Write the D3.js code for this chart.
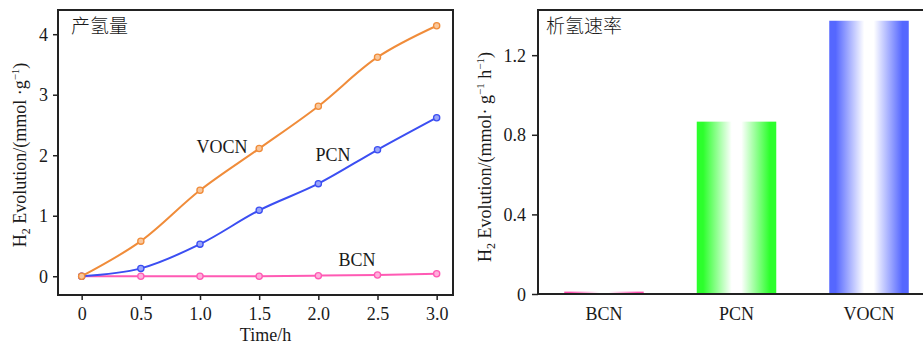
<!DOCTYPE html>
<html>
<head>
<meta charset="utf-8">
<script src="https://cdn.jsdelivr.net/npm/d3@7"></script>
<style>
  html, body { margin: 0; padding: 0; background: #fff; }
  svg { display: block; }
  text { font-family: "Liberation Serif", "DejaVu Serif", serif; fill: #1a1a1a; }
  .cjk { font-family: "Noto Sans CJK SC", sans-serif; font-weight: 300; }
</style>
</head>
<body>
<svg id="chart" width="923" height="345"></svg>
<script>
// Left panel: cumulative H2 vs time
const times = [0, 0.5, 1.0, 1.5, 2.0, 2.5, 3.0];
const vocnAmount = [0, 0.58, 1.42, 2.11, 2.81, 3.62, 4.14];
const pcnAmount = [0, 0.13, 0.53, 1.09, 1.53, 2.09, 2.62];
const bcnAmount = [0, 0, 0, 0, 0.01, 0.02, 0.04];
const timeTicks = [0, 0.5, 1.0, 1.5, 2.0, 2.5, 3.0];
const timeTickLabels = ['0', '0.5', '1.0', '1.5', '2.0', '2.5', '3.0'];
const amountTicks = [0, 1, 2, 3, 4];

// Right panel: rate per sample
const samples = ['BCN', 'PCN', 'VOCN'];
const rates = [0.012, 0.866, 1.373];
const rateTicks = [0, 0.4, 0.8, 1.2];
const rateTickLabels = ['0', '0.4', '0.8', '1.2'];

const svg = d3.select('#chart');

/* ---------- left panel ---------- */
const L = { left: 58, right: 453, top: 10, bottom: 295 };
const x1 = d3.scaleLinear().domain([-0.2, 3.138]).range([L.left, L.right]);
const y1 = d3.scaleLinear().domain([-0.31, 4.4]).range([L.bottom, L.top]);

const left = svg.append('g');

const series = [
  { name: 'VOCN', values: vocnAmount, color: '#f08c3a', fill: '#f9c79b', lx: 222, ly: 153 },
  { name: 'PCN', values: pcnAmount, color: '#3b4ef2', fill: '#9aa5f8', lx: 333, ly: 161 },
  { name: 'BCN', values: bcnAmount, color: '#ff5ab4', fill: '#ffb0dc', lx: 357, ly: 266 }
];

const line = d3.line()
  .x((d, i) => x1(times[i]))
  .y((d) => y1(d))
  .curve(d3.curveCatmullRom.alpha(0.5));

// draw BCN first so others sit on top
series.slice().reverse().forEach((s) => {
  left.append('path')
    .attr('d', line(s.values))
    .attr('fill', 'none')
    .attr('stroke', s.color)
    .attr('stroke-width', 2);
  left.selectAll(null)
    .data(s.values)
    .enter()
    .append('circle')
    .attr('cx', (d, i) => x1(times[i]))
    .attr('cy', (d) => y1(d))
    .attr('r', 3.1)
    .attr('fill', s.fill)
    .attr('stroke', s.color)
    .attr('stroke-width', 1.3);
});

series.forEach((s) => {
  left.append('text')
    .attr('x', s.lx)
    .attr('y', s.ly)
    .attr('text-anchor', 'middle')
    .attr('font-size', 18)
    .text(s.name);
});

// axes
const xAxis1 = d3.axisBottom(x1)
  .tickValues(timeTicks)
  .tickFormat((d, i) => timeTickLabels[i])
  .tickSize(5)
  .tickSizeOuter(0);
const gx1 = left.append('g')
  .attr('transform', `translate(0,${L.bottom})`)
  .call(xAxis1);
gx1.select('.domain').remove();
gx1.selectAll('line').attr('stroke', '#222').attr('stroke-width', 1.5);
gx1.selectAll('text')
  .attr('font-size', 18)
  .attr('font-family', '"Liberation Serif", serif')
  .attr('fill', '#1a1a1a')
  .attr('dy', null)
  .attr('y', 25);

const yAxis1 = d3.axisLeft(y1)
  .tickValues(amountTicks)
  .tickFormat(d3.format('d'))
  .tickSize(5)
  .tickSizeOuter(0);
const gy1 = left.append('g')
  .attr('transform', `translate(${L.left},0)`)
  .call(yAxis1);
gy1.select('.domain').remove();
gy1.selectAll('line').attr('stroke', '#222').attr('stroke-width', 1.5);
gy1.selectAll('text')
  .attr('font-size', 18)
  .attr('font-family', '"Liberation Serif", serif')
  .attr('fill', '#1a1a1a')
  .attr('x', -10)
  .attr('dy', '0.34em');

left.append('rect')
  .attr('x', L.left)
  .attr('y', L.top)
  .attr('width', L.right - L.left)
  .attr('height', L.bottom - L.top)
  .attr('fill', 'none')
  .attr('stroke', '#222')
  .attr('stroke-width', 2);

left.append('text')
  .attr('class', 'cjk')
  .attr('x', 71)
  .attr('y', 33)
  .attr('font-size', 19)
  .text('产氢量');

left.append('text')
  .attr('x', (L.left + L.right) / 2 + 10)
  .attr('y', 341)
  .attr('text-anchor', 'middle')
  .attr('font-size', 18)
  .text('Time/h');

const yl1 = left.append('text')
  .attr('transform', 'translate(26,155) rotate(-90)')
  .attr('text-anchor', 'middle')
  .attr('font-size', 18);
yl1.append('tspan').text('H');
yl1.append('tspan').attr('font-size', 12).attr('dy', 4).text('2');
yl1.append('tspan').attr('dy', -4).text(' Evolution/(mmol ·g');
yl1.append('tspan').attr('font-size', 11).attr('dy', -7).text('−1');
yl1.append('tspan').attr('dy', 7).text(')');

/* ---------- right panel ---------- */
const R = { left: 538, right: 935, top: 10, bottom: 294 };
const x2 = d3.scaleBand()
  .domain(samples)
  .range([R.left, R.right])
  .paddingInner(0.4)
  .paddingOuter(0.198);
const y2 = d3.scaleLinear().domain([0, 1.427]).range([R.bottom, R.top]);

const barColors = { BCN: '#ff4fb0', PCN: '#2cff2c', VOCN: '#5567ff' };
const defs = svg.append('defs');
samples.forEach((s) => {
  const g = defs.append('linearGradient')
    .attr('id', 'grad-' + s)
    .attr('x1', '0%').attr('x2', '100%')
    .attr('y1', '0%').attr('y2', '0%');
  [[0, 1], [0.08, 1], [0.44, 0], [0.56, 0], [0.92, 1], [1, 1]].forEach(([o, a]) => {
    g.append('stop')
      .attr('offset', o)
      .attr('stop-color', a ? barColors[s] : '#ffffff');
  });
});

const right = svg.append('g');
right.selectAll('rect.bar')
  .data(samples)
  .enter()
  .append('rect')
  .attr('class', 'bar')
  .attr('x', (d) => x2(d))
  .attr('width', x2.bandwidth())
  .attr('y', (d, i) => y2(rates[i]))
  .attr('height', (d, i) => R.bottom - y2(rates[i]))
  .attr('fill', (d) => `url(#grad-${d})`);

const yAxis2 = d3.axisLeft(y2)
  .tickValues(rateTicks)
  .tickFormat((d, i) => rateTickLabels[i])
  .tickSize(6)
  .tickSizeOuter(0);
const gy2 = right.append('g')
  .attr('transform', `translate(${R.left},0)`)
  .call(yAxis2);
gy2.select('.domain').remove();
gy2.selectAll('line').attr('stroke', '#222').attr('stroke-width', 1.5);
gy2.selectAll('text')
  .attr('font-size', 18)
  .attr('font-family', '"Liberation Serif", serif')
  .attr('fill', '#1a1a1a')
  .attr('x', -12)
  .attr('dy', '0.34em');

const xAxis2 = d3.axisBottom(x2).tickSize(0).tickSizeOuter(0);
const gx2 = right.append('g')
  .attr('transform', `translate(0,${R.bottom})`)
  .call(xAxis2);
gx2.select('.domain').remove();
gx2.selectAll('text')
  .attr('font-size', 18)
  .attr('font-family', '"Liberation Serif", serif')
  .attr('fill', '#1a1a1a')
  .attr('dy', null)
  .attr('y', 26);

right.append('rect')
  .attr('x', R.left)
  .attr('y', R.top)
  .attr('width', R.right - R.left)
  .attr('height', R.bottom - R.top)
  .attr('fill', 'none')
  .attr('stroke', '#222')
  .attr('stroke-width', 2);

right.append('text')
  .attr('class', 'cjk')
  .attr('x', 546)
  .attr('y', 33)
  .attr('font-size', 19)
  .text('析氢速率');

const yl2 = right.append('text')
  .attr('transform', 'translate(491,157) rotate(-90)')
  .attr('text-anchor', 'middle')
  .attr('font-size', 18);
yl2.append('tspan').text('H');
yl2.append('tspan').attr('font-size', 12).attr('dy', 4).text('2');
yl2.append('tspan').attr('dy', -4).text(' Evolution/(mmol· g');
yl2.append('tspan').attr('font-size', 11).attr('dy', -7).text('−1');
yl2.append('tspan').attr('dy', 7).text(' h');
yl2.append('tspan').attr('font-size', 11).attr('dy', -7).text('−1');
yl2.append('tspan').attr('dy', 7).text(')');
</script>
</body>
</html>
